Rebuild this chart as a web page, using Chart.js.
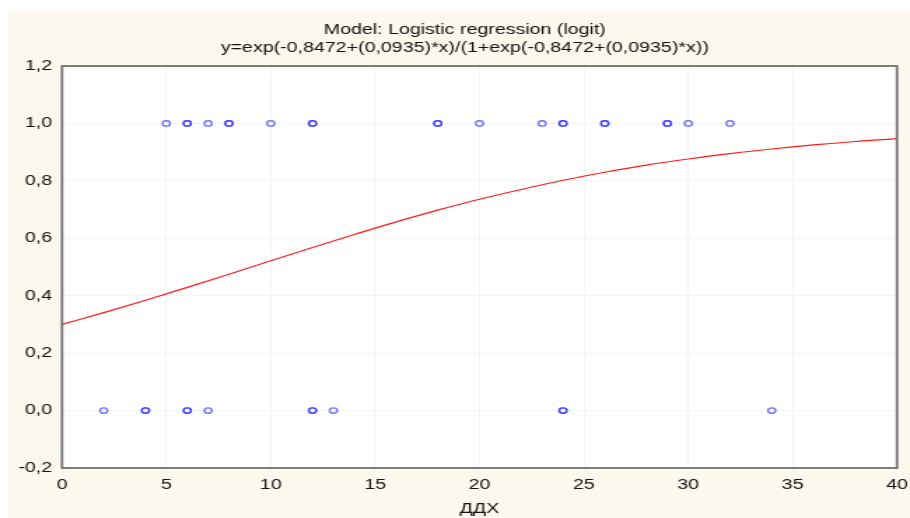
<!DOCTYPE html>
<html>
<head>
<meta charset="utf-8">
<script src="https://cdn.jsdelivr.net/npm/chart.js@4/dist/chart.umd.min.js"></script>
<style>
  html, body { margin: 0; padding: 0; background: #fff; overflow: hidden; }
  /* the source picture is stretched horizontally, so the chart is too */
  #wrap { width: 650px; height: 518px; transform: scaleX(1.4); transform-origin: 0 0; }
</style>
</head>
<body>
<div id="wrap"><canvas id="myChart" width="650" height="518"></canvas></div>
<script>
// observed points (duplicates drawn twice, look bolder)
var onesX = [5, 6, 6, 7, 8, 8, 10, 12, 12, 18, 18, 20, 23, 24, 24, 26, 26, 29, 29, 30, 32];
var zerosX = [2, 4, 4, 6, 6, 7, 12, 12, 13, 24, 24, 34];

// fitted curve
var curveX = [0, 2, 4, 6, 8, 10, 12, 14, 16, 18, 20, 22, 24, 26, 28, 30, 32, 34, 36, 38, 40];
var curveY = [0.300, 0.341, 0.384, 0.429, 0.475, 0.522, 0.568, 0.613, 0.657, 0.698, 0.736,
              0.770, 0.802, 0.830, 0.855, 0.876, 0.895, 0.911, 0.925, 0.937, 0.947];

var yTickLabels = ['-0,2', '0,0', '0,2', '0,4', '0,6', '0,8', '1,0', '1,2'];
var xTickLabels = ['0', '5', '10', '15', '20', '25', '30', '35', '40'];

var titleLines = ['Model: Logistic regression (logit)',
                  'y=exp(-0,8472+(0,0935)*x)/(1+exp(-0,8472+(0,0935)*x))'];
var xTitle = 'ДДХ';

var pts = [];
onesX.forEach(function(x){ pts.push({x: x, y: 1}); });
zerosX.forEach(function(x){ pts.push({x: x, y: 0}); });

var curve = curveX.map(function(x, i){ return {x: x, y: curveY[i]}; });

const bgPlugin = {
    id: 'bg',
    beforeDraw(chart){
        var c = chart.ctx, a = chart.chartArea;
        c.save();
        c.fillStyle = '#ffffff';
        c.fillRect(0, 0, chart.width, chart.height);
        c.fillStyle = '#fdf8ee';
        c.fillRect(5.7, 12, chart.width - 5.7, chart.height - 12);
        c.fillStyle = '#ffffff';
        c.fillRect(a.left, a.top, a.right - a.left, a.bottom - a.top);
        c.restore();
    },
    afterDraw(chart){
        var c = chart.ctx, a = chart.chartArea;
        c.save();
        c.strokeStyle = '#707070';
        c.lineWidth = 1.8;
        c.strokeRect(a.left, a.top, a.right - a.left, a.bottom - a.top);
        // two-line title, a bit right of the canvas centre like the original
        c.fillStyle = '#111';
        c.font = '14px "Liberation Sans", Arial, sans-serif';
        c.textAlign = 'center';
        c.textBaseline = 'middle';
        c.fillText(titleLines[0], 332, 30);
        c.fillText(titleLines[1], 332, 48);
        c.restore();
    }
};

Chart.defaults.font.family = '"Liberation Sans", Arial, sans-serif';
Chart.defaults.color = '#111';

new Chart(document.getElementById('myChart'), {
    type: 'scatter',
    data: {
        datasets: [{
            label: 'curve',
            type: 'line',
            data: curve,
            borderColor: '#ff1a1a',
            borderWidth: 1.2,
            pointRadius: 0,
            cubicInterpolationMode: 'monotone',
            fill: false,
            order: 2
        }, {
            label: 'obs',
            data: pts,
            pointRadius: 2.7,
            pointBorderWidth: 1.4,
            pointBorderColor: 'rgba(40,40,255,0.65)',
            pointBackgroundColor: 'rgba(255,255,255,0)',
            order: 1
        }]
    },
    options: {
        responsive: false,
        animation: false,
        devicePixelRatio: 1,
        layout: { padding: { left: 0, right: 9.3, top: 66, bottom: 0 } },
        plugins: {
            legend: { display: false },
            tooltip: { enabled: false },
            title: { display: false }
        },
        scales: {
            x: {
                type: 'linear',
                min: 0, max: 40,
                afterFit: function(s){ s.height = 50; s.paddingLeft = 0; s.paddingRight = 0; },
                ticks: {
                    stepSize: 5,
                    padding: 9,
                    font: { size: 14 },
                    color: '#111',
                    callback: function(v){ return xTickLabels[Math.round(v / 5)]; }
                },
                grid: { color: '#f4f4f4', drawTicks: false },
                border: { display: false },
                title: { display: true, text: xTitle, font: { size: 14 }, color: '#111', padding: { top: 2, bottom: 0 } }
            },
            y: {
                min: -0.2, max: 1.2,
                afterFit: function(s){ s.width = 44.3; s.paddingTop = 0; s.paddingBottom = 0; },
                ticks: {
                    stepSize: 0.2,
                    padding: 7,
                    font: { size: 14 },
                    color: '#111',
                    callback: function(v){ return yTickLabels[Math.round((v + 0.2) / 0.2)]; }
                },
                grid: { color: '#f4f4f4', drawTicks: false },
                border: { display: false }
            }
        }
    },
    plugins: [bgPlugin]
});
</script>
</body>
</html>
